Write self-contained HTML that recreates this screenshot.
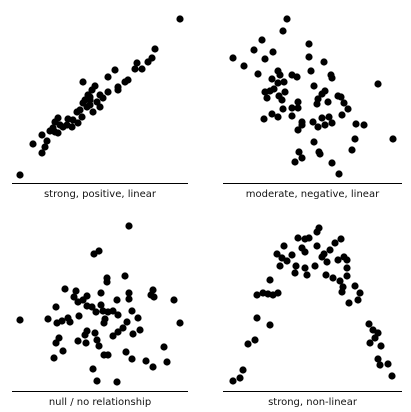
<!DOCTYPE html>
<html><head><meta charset="utf-8"><style>
html,body{margin:0;padding:0;background:#fff;}
svg{display:block;}
text{font-family:"DejaVu Sans","Liberation Sans",sans-serif;font-size:10px;fill:#111;}
</style></head><body>
<svg id="chart" width="411" height="412"></svg>
<script>
const p1x=[20,180,155,152,148,137,135,142,115,108,128,125,83,118,118,108,95,92,88,100,103,85,97,90,100,93,83,80,77,82,73,68,67,78,58,55,60,53,50,58,63,42,47,33,45,42,90,87,72,55,90];
const p1y=[175,19,49,58,62,63,69,69,70,77,80,82,82,87,90,92,86,90,95,95,98,100,102,105,107,112,103,110,112,117,120,119,125,123,118,122,125,128,131,133,127,135,141,144,147,153,100,107,127,132,97];
const p2x=[82,78,57,49,68,60,28,39,104,104,119,106,126,127,173,53,73,75,67,73,79,87,92,109,120,117,60,65,69,62,74,80,77,93,87,93,78,113,112,123,133,136,139,143,137,59,67,73,87,97,97,93,108,113,117,120,124,127,151,159,188,150,109,147,94,114,115,97,90,127,134];
const p2y=[19,31,40,50,52,59,58,66,44,57,62,71,75,78,84,74,71,75,79,83,82,75,77,86,91,94,92,91,89,98,96,92,100,102,108,108,109,99,104,102,96,97,103,109,115,119,114,117,116,122,125,130,122,127,118,125,117,123,124,125,139,139,142,150,152,152,154,158,162,163,174];
const p3x=[129,94,99,107,125,107,65,76,87,101,129,153,151,154,174,129,117,74,78,83,56,87,92,101,103,108,113,118,132,138,127,96,20,48,57,62,68,70,79,105,104,180,123,118,113,133,140,87,85,95,97,59,56,78,86,99,63,54,104,108,126,132,146,153,164,167,93,97,117];
const p3y=[21,49,46,73,71,77,84,86,91,88,88,85,90,92,95,94,95,92,97,95,102,101,102,100,106,107,106,110,106,113,117,107,115,114,118,116,113,117,111,114,118,118,123,127,131,129,125,126,130,128,135,133,138,136,138,141,146,153,150,150,147,154,156,162,142,157,164,176,177];
const p4x=[114,112,104,100,93,136,130,79,112,97,100,72,125,119,87,77,82,117,139,142,133,122,75,91,110,142,100,90,102,121,128,142,135,65,52,58,63,68,73,138,137,150,155,153,144,52,65,164,168,173,170,165,176,50,43,173,175,183,187,38,35,28];
const p4y=[23,27,33,34,33,34,38,41,41,43,47,49,45,49,50,53,56,52,52,55,55,57,61,61,61,63,63,68,70,70,73,71,76,75,90,88,89,90,88,82,87,81,88,95,98,113,120,119,125,128,133,138,141,135,139,154,160,159,171,165,173,176];
const labels=["strong, positive, linear","moderate, negative, linear","null / no relationship","strong, non-linear"];
const names=["positive-linear","negative-linear","null","non-linear"];
const panels=[
 {xs:p1x,ys:p1y,ox:0,oy:0,a0:12,a1:188,ay:183},
 {xs:p2x,ys:p2y,ox:205,oy:0,a0:18,a1:197,ay:183},
 {xs:p3x,ys:p3y,ox:0,oy:205,a0:12,a1:188,ay:186},
 {xs:p4x,ys:p4y,ox:205,oy:205,a0:18,a1:197,ay:186}
];
const NS="http://www.w3.org/2000/svg";
const svg=document.getElementById('chart');
panels.forEach((p,i)=>{
  const sx=v=>p.ox+v, sy=v=>p.oy+v;
  const g=document.createElementNS(NS,'g');
  
  
  svg.appendChild(g);
  const ln=document.createElementNS(NS,'line');
  ln.setAttribute('x1',sx(p.a0));ln.setAttribute('x2',sx(p.a1));
  ln.setAttribute('y1',sy(p.ay)+0.5);ln.setAttribute('y2',sy(p.ay)+0.5);
  ln.setAttribute('stroke','#000');ln.setAttribute('stroke-width','1');
  
  
  g.appendChild(ln);
  p.xs.forEach((x,j)=>{
    const c=document.createElementNS(NS,'circle');
    c.setAttribute('cx',sx(x));c.setAttribute('cy',sy(p.ys[j]));c.setAttribute('r',3.6);
    c.setAttribute('fill','#000');
    
    
    g.appendChild(c);
  });
  const t=document.createElementNS(NS,'text');
  t.setAttribute('x',sx((p.a0+p.a1)/2));t.setAttribute('y',sy(p.ay)+14);
  t.setAttribute('text-anchor','middle');
  t.textContent=labels[i];
  
  
  g.appendChild(t);
});
</script>
</body></html>
